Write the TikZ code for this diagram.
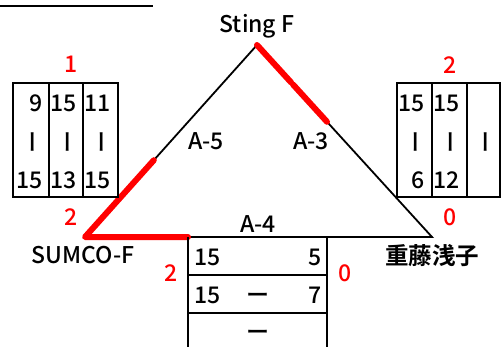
\documentclass[tikz,border=0pt]{standalone}
\usepackage{fontspec}
\setmainfont{Noto Sans CJK JP}[UprightFont={* Medium}, BoldFont={* Bold}]
\usetikzlibrary{calc}
\begin{document}
\begin{tikzpicture}[x=1pt,y=-1pt,
  txt/.style={font=\fontsize{23}{26}\selectfont, inner sep=0pt, outer sep=0pt},
  score/.style={txt, text=red, anchor=center},
  num/.style={txt, anchor=base east},
  numl/.style={txt, anchor=base west},
  vbar/.style={txt, anchor=center, rotate=90},
  hbar/.style={txt, anchor=center},
  frame/.style={line width=2pt},
  grid/.style={line width=1.2pt},
  edge/.style={line width=1.8pt},
  win/.style={line width=6pt, red, line cap=round, line join=round}]
\useasboundingbox (0,0) rectangle (502,347);
\fill[white] (0,0) rectangle (502,347);

% top rule
\coordinate (r1) at (0,6);
\coordinate (r2) at (153,6);
\draw[line width=2pt] (r1) -- (r2);

% triangle
\coordinate (T) at (257,45);
\coordinate (L) at (85,237);
\coordinate (R) at (432,237);
\coordinate (B) at (188,237);
\draw[edge] (L) -- (T) -- (R) -- cycle;

% winner marks
\draw[win] ($(L)!0.2!(T)$) -- (L) -- (B);
\draw[win] ($(L)!0.205!(T)$) -- ($(L)!0.4!(T)$);
\draw[win] (T) -- ($(T)!0.195!(R)$);
\draw[win] ($(T)!0.205!(R)$) -- ($(T)!0.4!(R)$);

% team names
\node[txt, anchor=base] (sting) at (257,33) {Sting F};
\node[txt, anchor=base] (sumco) at (83,263) {SUMCO-F};
\node[txt, anchor=center, font=\fontsize{23.5}{26}\selectfont\bfseries] (shige) at (432,256) {重藤浅子};

% match labels
\node[txt, anchor=base] (a5) at (206,150) {A-5};
\node[txt, anchor=base] (a3) at (311,150) {A-3};
\node[txt, anchor=base] (a4) at (258,232) {A-4};

% set scores
\node[score] (s1) at (71,64) {1};
\node[score] (s2) at (450,65) {2};
\node[score] (s3) at (71,217) {2};
\node[score] (s4) at (450,217) {0};
\node[score] (s5) at (171,273) {2};
\node[score] (s6) at (345,273) {0};

% left table (A-5)
\draw[frame] (13,83) rectangle (118,197);
\draw[grid] (49,83) -- (49,197) (83,83) -- (83,197);
\node[num] (l11) at (43,112) {9};
\node[num] (l12) at (77,112) {15};
\node[num] (l13) at (111,112) {11};
\node[vbar] (l21) at (36,142) {\raisebox{-.385em}{ー}};
\node[vbar] (l22) at (71,142) {\raisebox{-.385em}{ー}};
\node[vbar] (l23) at (105,142) {\raisebox{-.385em}{ー}};
\node[num] (l31) at (43,188) {15};
\node[num] (l32) at (77,188) {13};
\node[num] (l33) at (111,188) {15};

% right table (A-3)
\draw[frame] (397,83) rectangle (500,197);
\draw[grid] (432,83) -- (432,197) (467,83) -- (467,197);
\node[num] (r11) at (425,112) {15};
\node[num] (r12) at (460,112) {15};
\node[vbar] (r21) at (419,142) {\raisebox{-.385em}{ー}};
\node[vbar] (r22) at (454,142) {\raisebox{-.385em}{ー}};
\node[vbar] (r23) at (489,142) {\raisebox{-.385em}{ー}};
\node[num] (r31) at (425,188) {6};
\node[num] (r32) at (460,188) {12};

% bottom table (A-4)
\draw[frame] (188,237) -- (188,350) (327,237) -- (327,350);
\draw[grid] (188,275) -- (327,275) (188,313) -- (327,313);
\node[numl] (b11) at (194,265) {15};
\node[num] (b12) at (322,265) {5};
\node[numl] (b21) at (194,303) {15};
\node[hbar] (b22) at (258,298) {\raisebox{-.385em}{ー}};
\node[num] (b23) at (322,303) {7};
\node[hbar] (b32) at (258,335) {\raisebox{-.385em}{ー}};
\end{tikzpicture}
\end{document}
